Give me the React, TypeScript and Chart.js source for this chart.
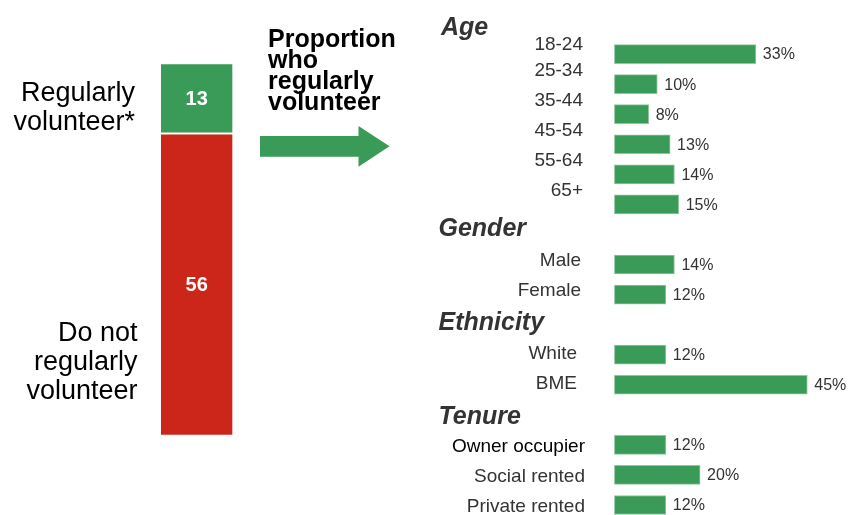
import React, { useEffect, useRef } from "react";
import { Chart, registerables } from "chart.js";

Chart.register(...registerables);

// ---- Data ----
const summaryCategories = ["Regularly volunteer*", "Do not regularly volunteer"];
const summaryValues = [13, 56];
const summaryLabelLines = [["Regularly", "volunteer*"], ["Do not", "regularly", "volunteer"]];
const summaryTitleLines = ["Proportion", "who", "regularly", "volunteer"];

const groupNames = ["Age", "Gender", "Ethnicity", "Tenure"];
const ageLabels = ["18-24", "25-34", "35-44", "45-54", "55-64", "65+"];
const ageValues = [33, 10, 8, 13, 14, 15];
const genderLabels = ["Male", "Female"];
const genderValues = [14, 12];
const ethnicityLabels = ["White", "BME"];
const ethnicityValues = [12, 45];
const tenureLabels = ["Owner occupier", "Social rented", "Private rented"];
const tenureValues = [12, 20, 12];

const GREEN = "#3a9a57";
const RED = "#cc2519";
const FONT = "'Liberation Sans', Arial, Helvetica, sans-serif";

type Row = { label: string; value: number | null; header: boolean; group: number };
const groups: [string[], number[]][] = [
  [ageLabels, ageValues],
  [genderLabels, genderValues],
  [ethnicityLabels, ethnicityValues],
  [tenureLabels, tenureValues],
];
const rows: Row[] = [];
groups.forEach(([labs, vals], gi) => {
  rows.push({ label: groupNames[gi], value: null, header: true, group: gi });
  labs.forEach((l, i) => rows.push({ label: l, value: vals[i], header: false, group: gi }));
});

// per-group text placement (style only)
const headerDy = [11, 2, 5.5, 9];
const labelDy = [-8, 1.5, 4, 7];
const labelRight = [583, 581, 577, 585];

export default function App() {
  const leftRef = useRef<HTMLCanvasElement>(null);
  const rightRef = useRef<HTMLCanvasElement>(null);

  useEffect(() => {
    const leftPlugin = {
      id: "leftText",
      afterDatasetsDraw(chart: any) {
        const ctx = chart.ctx as CanvasRenderingContext2D;
        ctx.save();
        // values inside segments
        const metas = [chart.getDatasetMeta(0), chart.getDatasetMeta(1)];
        metas.forEach((m: any, di: number) => {
          const el = m.data[0];
          const cy = (el.y + el.base) / 2;
          ctx.fillStyle = "#ffffff";
          ctx.font = `bold 20px ${FONT}`;
          ctx.textAlign = "center";
          ctx.textBaseline = "middle";
          const catIdx = di === 1 ? 0 : 1;
          ctx.fillText(String(summaryValues[catIdx]), el.x, cy + 1);
          // side labels
          ctx.fillStyle = "#000000";
          ctx.font = `27px ${FONT}`;
          ctx.textAlign = "right";
          ctx.textBaseline = "alphabetic";
          const lines = summaryLabelLines[catIdx];
          const right = el.x - el.width / 2 - 24;
          if (catIdx === 0) {
            lines.forEach((t, i) => ctx.fillText(t, right - 1, cy + 2.5 + i * 29));
          } else {
            const bottom = Math.max(el.y, el.base);
            lines.forEach((t, i) =>
              ctx.fillText(t, right + 1.5, bottom - 37 - (lines.length - 1 - i) * 28.8)
            );
          }
        });
        // title
        ctx.fillStyle = "#000000";
        ctx.font = `bold 25px ${FONT}`;
        ctx.textAlign = "left";
        ctx.textBaseline = "alphabetic";
        summaryTitleLines.forEach((t, i) => ctx.fillText(t, 268, 46.5 + i * 21));
        // arrow
        ctx.fillStyle = GREEN;
        ctx.beginPath();
        ctx.moveTo(260, 136);
        ctx.lineTo(358.5, 136);
        ctx.lineTo(358.5, 126);
        ctx.lineTo(389.5, 146.3);
        ctx.lineTo(358.5, 166.7);
        ctx.lineTo(358.5, 156.7);
        ctx.lineTo(260, 156.7);
        ctx.closePath();
        ctx.fill();
        ctx.restore();
      },
    };

    const left = new Chart(leftRef.current!, {
      type: "bar",
      data: {
        labels: ["All"],
        datasets: [
          {
            label: summaryCategories[1],
            data: [summaryValues[1]],
            backgroundColor: RED,
            borderColor: "#ffffff",
            borderWidth: 1.3,
            borderSkipped: false,
          },
          {
            label: summaryCategories[0],
            data: [summaryValues[0]],
            backgroundColor: GREEN,
            borderColor: "#ffffff",
            borderWidth: 1.3,
            borderSkipped: false,
          },
        ],
      },
      options: {
        responsive: false,
        animation: false,
        layout: { padding: { left: 160, right: 848 - 233.3, top: 63.3, bottom: 515 - 435.7 } },
        plugins: { legend: { display: false }, tooltip: { enabled: false } },
        scales: {
          x: { display: false, stacked: true },
          y: { display: false, stacked: true, min: 0, max: summaryValues[0] + summaryValues[1] },
        },
        datasets: { bar: { barPercentage: 1, categoryPercentage: 1 } },
      } as any,
      plugins: [leftPlugin],
    });

    const rightPlugin = {
      id: "rightText",
      afterDatasetsDraw(chart: any) {
        const ctx = chart.ctx as CanvasRenderingContext2D;
        const ys = chart.scales.y;
        const meta = chart.getDatasetMeta(0);
        ctx.save();
        rows.forEach((r, i) => {
          const cy = ys.getPixelForValue(i);
          if (r.header) {
            ctx.fillStyle = "#333333";
            ctx.font = `italic bold 25px ${FONT}`;
            ctx.textAlign = "left";
            ctx.textBaseline = "alphabetic";
            ctx.fillText(r.label, r.group === 0 ? 441 : 438.5, cy + headerDy[r.group]);
          } else {
            ctx.fillStyle = r.label === "Owner occupier" ? "#000000" : "#333333";
            ctx.font = `19px ${FONT}`;
            ctx.textAlign = "right";
            ctx.textBaseline = "alphabetic";
            let dy = labelDy[r.group];
            if (r.group === 0) dy = i === 1 ? -4.5 : -8.5;
            ctx.fillText(r.label, labelRight[r.group], cy + dy);
            const el = meta.data[i];
            ctx.fillStyle = "#333333";
            ctx.font = `16px ${FONT}`;
            ctx.textAlign = "left";
            ctx.textBaseline = "middle";
            ctx.fillText(`${r.value}%`, el.x + 7, cy + 1);
          }
        });
        ctx.restore();
      },
    };

    const right = new Chart(rightRef.current!, {
      type: "bar",
      data: {
        labels: rows.map((r) => r.label),
        datasets: [
          {
            data: rows.map((r) => r.value),
            backgroundColor: GREEN,
            borderColor: "#8fc7a0",
            borderWidth: 1,
            borderSkipped: false,
            barThickness: 19,
            clip: false,
          } as any,
        ],
      },
      options: {
        indexAxis: "y",
        responsive: false,
        animation: false,
        layout: { padding: { left: 614.4, right: 0, top: 24, bottom: 10 } },
        plugins: { legend: { display: false }, tooltip: { enabled: false } },
        scales: {
          x: { display: false, min: 0, max: 54.5 },
          y: { display: false, offset: false },
        },
      } as any,
      plugins: [rightPlugin],
    });

    return () => {
      left.destroy();
      right.destroy();
    };
  }, []);

  const cstyle: React.CSSProperties = { position: "absolute", left: 0, top: 0 };
  return (
    <div style={{ position: "absolute", left: 0, top: 0, width: 848, height: 515, background: "#fff", overflow: "hidden" }}>
      <canvas ref={leftRef} width={848} height={515} style={cstyle} />
      <canvas ref={rightRef} width={848} height={515} style={cstyle} />
    </div>
  );
}
